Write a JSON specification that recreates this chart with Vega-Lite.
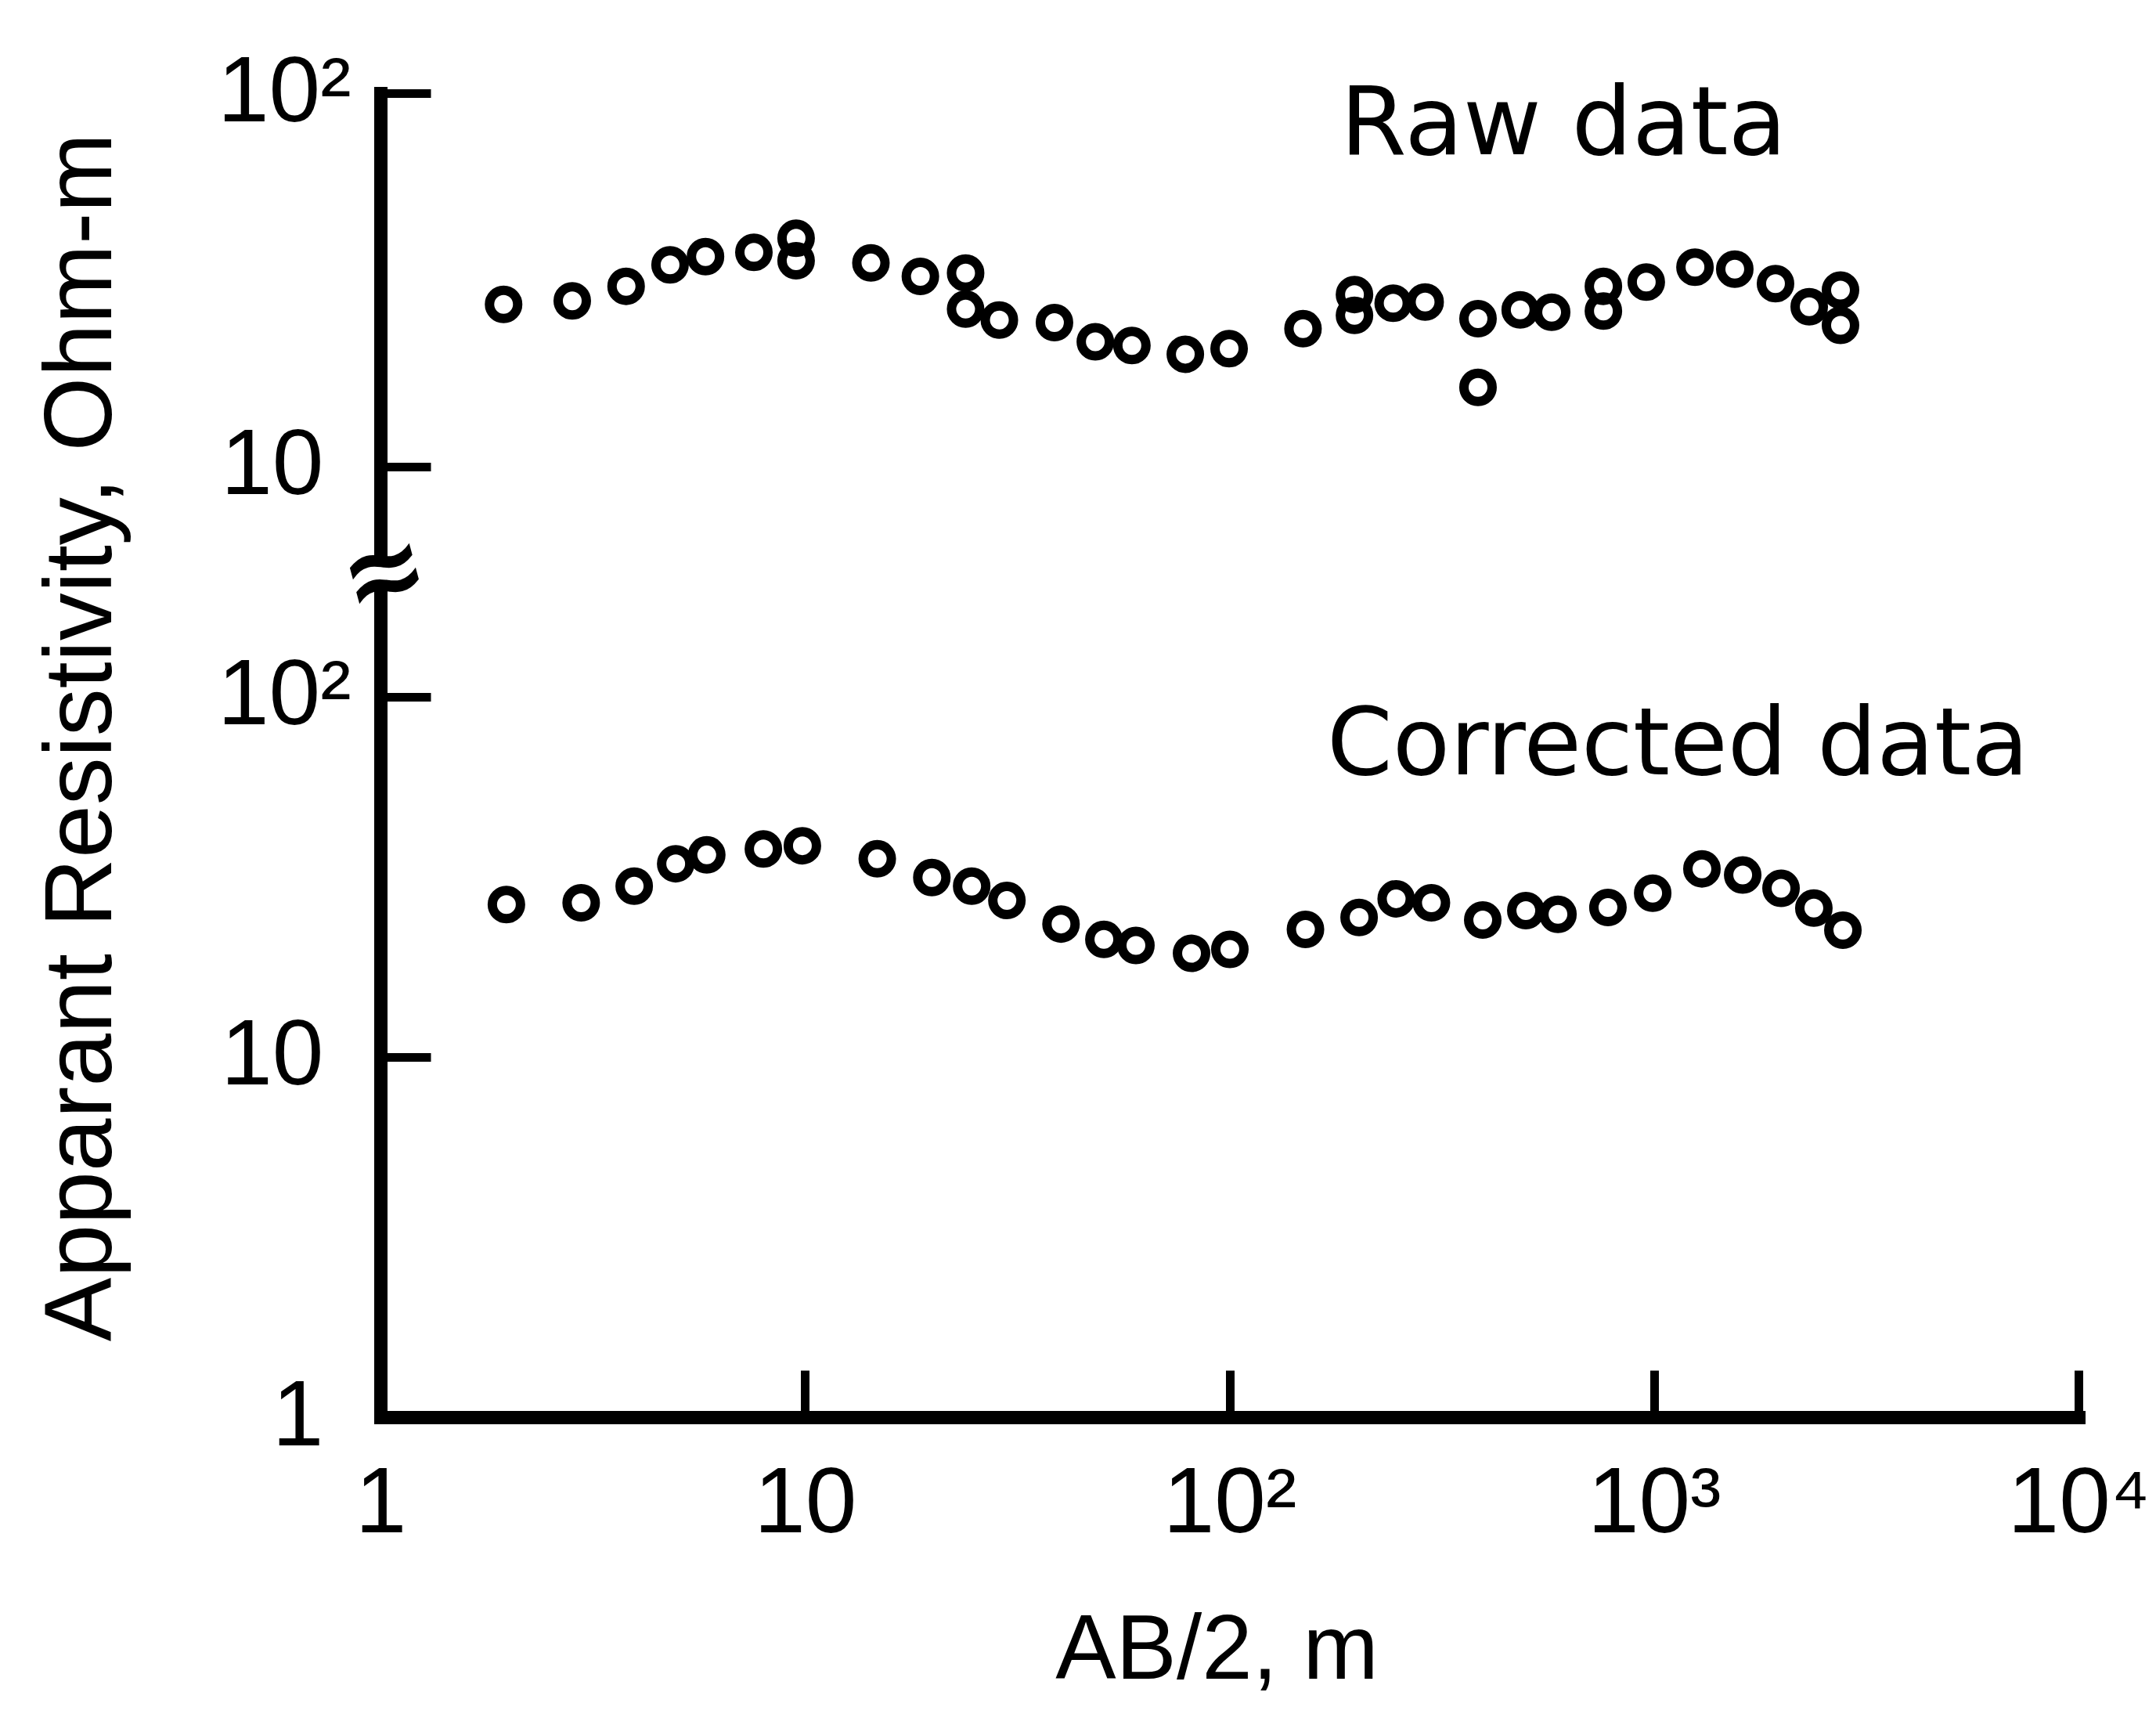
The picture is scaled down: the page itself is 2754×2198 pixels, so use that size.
{
  "$schema": "https://vega.github.io/schema/vega-lite/v6.json",
  "background": "white",
  "padding": {"left": 42, "top": 60, "right": 0, "bottom": 20},
  "bounds": "flush",
  "spacing": 35,
  "config": {
    "view": {"stroke": null},
    "axis": {
      "grid": false,
      "domainColor": "black",
      "domainWidth": 17,
      "domainCap": "square",
      "tickColor": "black",
      "tickWidth": 11,
      "labelFont": "Liberation Sans",
      "labelFontSize": 118,
      "labelColor": "black",
      "labelLimit": 600,
      "labelFlush": false,
      "labelOverlap": false,
      "titleFont": "Liberation Sans",
      "titleFontSize": 116,
      "titleFontWeight": "normal",
      "titleColor": "black"
    }
  },
  "datasets": {
    "raw": [
      {"ab2": 1.95, "rho": 27.2}, {"ab2": 2.83, "rho": 27.8}, {"ab2": 3.79, "rho": 30.4},
      {"ab2": 4.81, "rho": 34.7}, {"ab2": 5.83, "rho": 36.5}, {"ab2": 7.58, "rho": 37.5},
      {"ab2": 9.53, "rho": 40.9}, {"ab2": 9.53, "rho": 35.6}, {"ab2": 14.3, "rho": 35.1},
      {"ab2": 18.7, "rho": 32.3}, {"ab2": 23.9, "rho": 33.0}, {"ab2": 23.9, "rho": 26.4},
      {"ab2": 28.7, "rho": 24.7}, {"ab2": 38.7, "rho": 24.3}, {"ab2": 48.3, "rho": 21.6},
      {"ab2": 58.9, "rho": 21.1}, {"ab2": 78.7, "rho": 20.0}, {"ab2": 99.8, "rho": 20.7},
      {"ab2": 149, "rho": 23.4}, {"ab2": 197, "rho": 28.9}, {"ab2": 197, "rho": 25.4},
      {"ab2": 243, "rho": 27.4}, {"ab2": 289, "rho": 27.6}, {"ab2": 385, "rho": 24.9},
      {"ab2": 385, "rho": 16.3}, {"ab2": 484, "rho": 26.3}, {"ab2": 574, "rho": 25.9},
      {"ab2": 760, "rho": 30.4}, {"ab2": 760, "rho": 26.1}, {"ab2": 959, "rho": 31.2},
      {"ab2": 1249, "rho": 34.2}, {"ab2": 1550, "rho": 33.8}, {"ab2": 1933, "rho": 30.9},
      {"ab2": 2321, "rho": 26.8}, {"ab2": 2750, "rho": 29.7}, {"ab2": 2750, "rho": 23.9}
    ],
    "corrected": [
      {"ab2": 1.98, "rho": 26.5}, {"ab2": 2.97, "rho": 26.8}, {"ab2": 3.96, "rho": 29.8},
      {"ab2": 4.96, "rho": 34.4}, {"ab2": 5.87, "rho": 36.4}, {"ab2": 7.98, "rho": 37.8},
      {"ab2": 9.86, "rho": 38.6}, {"ab2": 14.8, "rho": 35.5}, {"ab2": 19.9, "rho": 31.5},
      {"ab2": 24.7, "rho": 29.8}, {"ab2": 29.9, "rho": 27.2}, {"ab2": 40.1, "rho": 23.4},
      {"ab2": 50.6, "rho": 21.2}, {"ab2": 60.2, "rho": 20.4}, {"ab2": 81.4, "rho": 19.4},
      {"ab2": 100.2, "rho": 19.9}, {"ab2": 151, "rho": 22.6}, {"ab2": 202, "rho": 24.4},
      {"ab2": 247, "rho": 27.5}, {"ab2": 299, "rho": 26.8}, {"ab2": 395, "rho": 24.0},
      {"ab2": 499, "rho": 25.5}, {"ab2": 594, "rho": 24.9}, {"ab2": 779, "rho": 26.0},
      {"ab2": 993, "rho": 28.5}, {"ab2": 1297, "rho": 33.3}, {"ab2": 1618, "rho": 32.0},
      {"ab2": 1992, "rho": 29.4}, {"ab2": 2380, "rho": 25.9}, {"ab2": 2786, "rho": 22.5}
    ],
    "rawLabel": [{"ab2": 182.4, "rho": 68.6, "label": "Raw data"}],
    "corrLabel": [{"ab2": 169.7, "rho": 60.9, "label": "Corrected data"}]
  },
  "vconcat": [
    {
      "width": 2169,
      "height": 595,
      "layer": [
        {
          "data": {"name": "raw"},
          "mark": {"type": "point", "shape": "circle", "filled": false, "stroke": "black", "strokeWidth": 12, "size": 1296, "opacity": 1},
          "encoding": {
            "x": {"field": "ab2", "type": "quantitative", "scale": {"type": "log", "domain": [1, 10000], "nice": false}, "axis": null},
            "y": {"field": "rho", "type": "quantitative", "scale": {"type": "log", "domain": [5.656, 100], "nice": false},
                  "axis": {"title": null, "values": [10, 100], "tickSize": -64,
                           "labelPadding": {"condition": {"test": "datum.value >= 99", "value": 102}, "value": 137},
                           "labelExpr": "datum.value >= 99 ? '10²' : '10'"}}
          }
        },
        {
          "data": {"name": "rawLabel"},
          "mark": {"type": "text", "font": "DejaVu Sans", "fontSize": 122, "align": "left", "baseline": "alphabetic", "color": "black"},
          "encoding": {
            "x": {"field": "ab2", "type": "quantitative"},
            "y": {"field": "rho", "type": "quantitative"},
            "text": {"field": "label"}
          }
        },
        {
          "data": {"values": [{}]},
          "mark": {"type": "text", "text": "~", "font": "DejaVu Sans", "fontSize": 130, "fontWeight": "bold", "align": "center", "baseline": "middle", "dy": 5, "angle": -15, "color": "black"},
          "encoding": {
            "x": {"datum": 1, "type": "quantitative"},
            "y": {"datum": 5.656, "type": "quantitative"}
          }
        },
        {
          "data": {"values": [{}]},
          "mark": {"type": "text", "text": "~", "font": "DejaVu Sans", "fontSize": 130, "fontWeight": "bold", "align": "center", "baseline": "middle", "dy": 37, "angle": -15, "color": "black"},
          "encoding": {
            "x": {"datum": 1, "type": "quantitative"},
            "y": {"datum": 5.656, "type": "quantitative"}
          }
        }
      ]
    },
    {
      "width": 2169,
      "height": 1061,
      "layer": [
        {
          "data": {"name": "corrected"},
          "mark": {"type": "point", "shape": "circle", "filled": false, "stroke": "black", "strokeWidth": 12, "size": 1296, "opacity": 1},
          "encoding": {
            "x": {"field": "ab2", "type": "quantitative", "scale": {"type": "log", "domain": [1, 10000], "nice": false},
                  "axis": {"title": "AB/2, m", "values": [1, 10, 100, 1000, 10000], "tickSize": -60, "labelPadding": 113,
                           "labelExpr": "datum.value >= 9999 ? '10⁴' : datum.value >= 999 ? '10³' : datum.value >= 99 ? '10²' : datum.value >= 9 ? '10' : '1'",
                           "titleX": 1068, "titleY": 333, "titleAlign": "center", "titleBaseline": "alphabetic"}},
            "y": {"field": "rho", "type": "quantitative", "scale": {"type": "log", "domain": [1, 202.5], "nice": false},
                  "axis": {"title": "Apparant Resistivity, Ohm-m", "values": [1, 10, 100], "tickSize": -64,
                           "labelPadding": {"condition": {"test": "datum.value >= 99", "value": 102}, "value": 137},
                           "labelExpr": "datum.value >= 99 ? '10²' : datum.value >= 9 ? '10' : '1'",
                           "titleFontSize": 122,
                           "titleX": -345, "titleY": 192, "titleAngle": -90, "titleAlign": "center", "titleBaseline": "alphabetic"}}
          }
        },
        {
          "data": {"name": "corrLabel"},
          "mark": {"type": "text", "font": "DejaVu Sans", "fontSize": 120, "align": "left", "baseline": "alphabetic", "color": "black"},
          "encoding": {
            "x": {"field": "ab2", "type": "quantitative"},
            "y": {"field": "rho", "type": "quantitative"},
            "text": {"field": "label"}
          }
        }
      ]
    }
  ]
}
